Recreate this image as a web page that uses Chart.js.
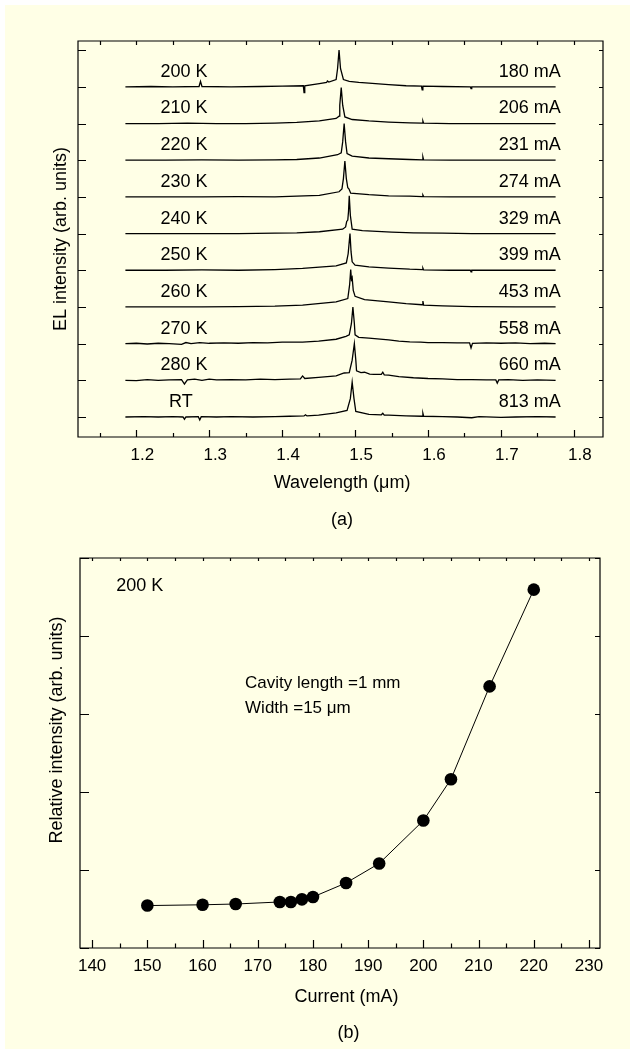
<!DOCTYPE html>
<html>
<head>
<meta charset="utf-8">
<script src="https://cdn.jsdelivr.net/npm/chart.js@4"></script>
<style>
  html, body { margin: 0; padding: 0; background: #fff; }
  #sheet { position: absolute; left: 5px; top: 5px; width: 625px; height: 1044px; background: #FFFFE6; }
  #wrapA { position: absolute; left: 0; top: 0; width: 630px; height: 545px; }
  #wrapB { position: absolute; left: 0; top: 545px; width: 630px; height: 504px; }
</style>
</head>
<body>
<div id="sheet"></div>
<div id="wrapA"><canvas id="chartA" width="630" height="545"></canvas></div>
<div id="wrapB"><canvas id="chartB" width="630" height="504"></canvas></div>
<script>
// ---- data (a): EL spectra, top to bottom ----
const tempLabels = ['200 K', '210 K', '220 K', '230 K', '240 K', '250 K', '260 K', '270 K', '280 K', 'RT'];
const currentLabels = ['180 mA', '206 mA', '231 mA', '274 mA', '329 mA', '399 mA', '453 mA', '558 mA', '660 mA', '813 mA'];

// [wavelength (um), normalised intensity]
const spec200 = [[1.185,0],[1.22,0.01],[1.25,0],[1.286,0.01],[1.288,0.15],[1.290,0.01],[1.33,0],[1.37,0.01],[1.40,0.02],[1.429,0.03],[1.430,-0.16],[1.431,0.03],[1.451,0.09],[1.461,0.12],[1.462,0.16],[1.464,0.13],[1.474,0.2],[1.476,0.5],[1.478,1.0],[1.480,0.5],[1.484,0.2],[1.492,0.15],[1.505,0.12],[1.519,0.1],[1.546,0.06],[1.57,0.03],[1.591,0.02],[1.592,-0.08],[1.593,0.02],[1.62,0.01],[1.658,0],[1.659,-0.05],[1.66,0],[1.70,0],[1.74,0],[1.775,0]];
const spec210 = [[1.185,0],[1.23,0],[1.27,0.01],[1.31,0],[1.35,0],[1.39,0.01],[1.42,0.03],[1.451,0.07],[1.474,0.14],[1.478,0.2],[1.479,0.5],[1.481,0.98],[1.483,0.5],[1.486,0.18],[1.496,0.11],[1.519,0.07],[1.546,0.04],[1.575,0.02],[1.592,0.01],[1.593,0.07],[1.594,0.01],[1.63,0],[1.68,0],[1.73,0],[1.775,0]];
const spec220 = [[1.185,0],[1.24,0],[1.29,0.01],[1.34,0],[1.39,0.01],[1.42,0.02],[1.451,0.06],[1.476,0.15],[1.481,0.2],[1.483,0.5],[1.485,1.0],[1.487,0.5],[1.489,0.18],[1.496,0.11],[1.519,0.06],[1.546,0.04],[1.575,0.02],[1.592,0.01],[1.593,0.09],[1.594,0.01],[1.63,0],[1.68,0],[1.73,0],[1.775,0]];
const spec230 = [[1.185,0],[1.24,0],[1.29,0],[1.34,0.01],[1.39,0],[1.42,0.02],[1.451,0.04],[1.478,0.14],[1.482,0.22],[1.484,0.5],[1.486,0.98],[1.488,0.5],[1.490,0.25],[1.4915,0.22],[1.494,0.1],[1.519,0.06],[1.546,0.03],[1.575,0.02],[1.592,0.01],[1.593,0.05],[1.594,0.01],[1.63,0],[1.68,0],[1.73,0],[1.775,0]];
const spec240 = [[1.185,0],[1.24,0],[1.29,0],[1.34,0],[1.39,0.01],[1.42,0.02],[1.451,0.05],[1.483,0.12],[1.487,0.18],[1.4885,0.33],[1.490,0.37],[1.491,0.6],[1.492,1.03],[1.4935,0.5],[1.496,0.12],[1.51,0.08],[1.53,0.06],[1.55,0.04],[1.58,0.02],[1.62,0.01],[1.66,0],[1.72,0],[1.775,0]];
const spec250 = [[1.185,0],[1.24,0],[1.29,0.01],[1.34,0],[1.39,0.02],[1.428,0.05],[1.474,0.12],[1.488,0.2],[1.4905,0.45],[1.493,1.0],[1.4945,0.5],[1.496,0.23],[1.500,0.14],[1.519,0.09],[1.546,0.06],[1.575,0.03],[1.592,0.02],[1.593,0.06],[1.594,0.01],[1.63,0],[1.658,0],[1.659,-0.04],[1.66,0],[1.72,0],[1.775,0]];
const spec260 = [[1.185,0],[1.24,0],[1.29,0],[1.34,0.01],[1.39,0.02],[1.428,0.05],[1.474,0.14],[1.490,0.23],[1.4925,0.6],[1.494,1.02],[1.495,0.75],[1.496,0.8],[1.4975,0.45],[1.500,0.29],[1.513,0.2],[1.546,0.14],[1.57,0.09],[1.592,0.06],[1.593,0.16],[1.594,0.05],[1.62,0.03],[1.66,0.01],[1.72,0],[1.775,0]];
const spec270 = [[1.185,0],[1.20,0.01],[1.215,-0.01],[1.23,0.01],[1.245,0],[1.262,-0.02],[1.268,0.03],[1.275,0],[1.287,0.03],[1.30,0.01],[1.32,0.02],[1.34,0.01],[1.36,0.03],[1.38,0.02],[1.40,0.04],[1.428,0.04],[1.45,0.07],[1.474,0.12],[1.4875,0.2],[1.492,0.24],[1.495,0.55],[1.497,1.0],[1.499,0.55],[1.500,0.24],[1.505,0.17],[1.519,0.15],[1.546,0.1],[1.56,0.07],[1.575,0.05],[1.59,0.04],[1.60,0.03],[1.62,0.03],[1.64,0.02],[1.657,0.02],[1.659,-0.12],[1.661,0.01],[1.68,0.02],[1.70,0.01],[1.72,0.02],[1.74,0],[1.76,0.01],[1.775,0]];
const spec280 = [[1.185,0],[1.20,-0.01],[1.215,0.02],[1.23,0],[1.245,0.01],[1.262,0.02],[1.266,-0.1],[1.27,0.01],[1.28,0.03],[1.29,0],[1.30,0.03],[1.31,0.01],[1.33,0.02],[1.35,0.01],[1.37,0.03],[1.39,0.02],[1.41,0.03],[1.425,0.04],[1.428,0.12],[1.431,0.05],[1.45,0.08],[1.474,0.12],[1.485,0.2],[1.492,0.21],[1.496,0.55],[1.499,1.0],[1.501,0.55],[1.502,0.26],[1.508,0.21],[1.513,0.22],[1.52,0.17],[1.526,0.16],[1.536,0.16],[1.538,0.22],[1.540,0.15],[1.546,0.14],[1.56,0.1],[1.58,0.07],[1.60,0.05],[1.62,0.04],[1.64,0.02],[1.66,0.02],[1.68,0.01],[1.693,0.01],[1.695,-0.08],[1.697,0.01],[1.71,0.02],[1.73,0],[1.75,0.01],[1.775,0]];
const specRT = [[1.185,0],[1.21,0.01],[1.23,0],[1.25,0.01],[1.264,0],[1.266,-0.06],[1.268,0],[1.285,0.01],[1.287,-0.08],[1.289,0.01],[1.31,0],[1.33,0.01],[1.36,0],[1.39,0.01],[1.41,0.02],[1.43,0.03],[1.432,0.06],[1.434,0.03],[1.45,0.05],[1.474,0.11],[1.489,0.18],[1.4935,0.5],[1.496,0.95],[1.4985,0.5],[1.501,0.15],[1.519,0.07],[1.536,0.06],[1.538,0.1],[1.540,0.05],[1.546,0.05],[1.57,0.03],[1.592,0.02],[1.593,0.1],[1.594,0.02],[1.62,0.01],[1.64,0],[1.66,-0.02],[1.67,0.01],[1.70,-0.01],[1.72,0],[1.75,0.01],[1.775,0]];
const spectra = [spec200, spec210, spec220, spec230, spec240, spec250, spec260, spec270, spec280, specRT];

// ---- data (b): relative intensity vs current at 200 K ----
const currentMA = [150, 160, 166, 174, 176, 178, 180, 186, 192, 200, 205, 212, 220];
const relIntensity = [0.30, 0.31, 0.32, 0.346, 0.346, 0.38, 0.41, 0.59, 0.84, 1.39, 1.92, 3.11, 4.35];

const FONT = '"Liberation Sans", Arial, Helvetica, sans-serif';

// frame with inward ticks on all four sides, tick labels drawn by hand
function framePlugin(cfg) {
    return {
        id: 'frame',
        afterDraw(chart) {
            const { ctx, chartArea: a, scales: { x, y } } = chart;
            const seg = (x1, y1, x2, y2) => { ctx.moveTo(x1, y1); ctx.lineTo(x2, y2); };
            ctx.save();
            ctx.strokeStyle = '#000';
            ctx.lineWidth = 1.2;
            ctx.beginPath();
            ctx.rect(a.left, a.top, a.right - a.left, a.bottom - a.top);
            x.ticks.forEach(t => {
                const px = Math.round(x.getPixelForValue(t.value)) + 0.5;
                seg(px, a.bottom, px, a.bottom - cfg.xMajor);
                seg(px, a.top, px, a.top + cfg.xTop);
            });
            const st = cfg.xMinor;
            for (let v = Math.ceil(x.min / st) * st; v <= x.max; v += st) {
                const vv = Math.round(v * 1000) / 1000;
                if (x.ticks.some(t => Math.abs(t.value - vv) < st / 10)) continue;
                const px = Math.round(x.getPixelForValue(vv)) + 0.5;
                seg(px, a.bottom, px, a.bottom - cfg.xMinorLen);
                seg(px, a.top, px, a.top + cfg.xTop);
            }
            y.ticks.forEach(t => {
                const py = Math.round(y.getPixelForValue(t.value)) + 0.5;
                seg(a.left, py, a.left + cfg.yMajor, py);
                seg(a.right, py, a.right - cfg.yRight, py);
            });
            ctx.stroke();

            ctx.fillStyle = '#000';
            ctx.font = '17px ' + FONT;
            ctx.textAlign = 'center';
            ctx.textBaseline = 'middle';
            x.ticks.forEach(t => {
                ctx.fillText(cfg.fmt(t.value), x.getPixelForValue(t.value) + cfg.labelShift, a.bottom + cfg.labelGap);
            });
            ctx.restore();
        }
    };
}

function axisOptions(min, max, step) {
    return {
        type: 'linear', min: min, max: max,
        grid: { display: false, drawTicks: false },
        border: { display: false },
        ticks: { display: false, stepSize: step, includeBounds: false }
    };
}

// ---- chart (a) ----
const specSets = spectra.map((s, i) => ({
    data: s.map(p => ({ x: p[0], y: p[1] + (spectra.length - 1 - i) })),
    borderColor: '#000', borderWidth: 1.3, pointRadius: 0, tension: 0, fill: false
}));

const xA = axisOptions(1.12, 1.84, 0.1);
xA.afterFit = s => { s.height = 545 - 437; };
const yA = axisOptions(-0.545, 10.25, 1);
yA.afterFit = s => { s.width = 0; };

new Chart(document.getElementById('chartA'), {
    type: 'line',
    data: { datasets: specSets },
    options: {
        responsive: false, animation: false,
        layout: { padding: { left: 78, top: 41, right: 27, bottom: 0 } },
        plugins: { legend: { display: false }, tooltip: { enabled: false } },
        scales: { x: xA, y: yA }
    },
    plugins: [
        framePlugin({ xMajor: 7, xMinorLen: 4, xMinor: 0.05, xTop: 4, yMajor: 8, yRight: 4,
                      fmt: v => v.toFixed(1), labelShift: 6, labelGap: 18 }),
        {
            id: 'textA',
            afterDraw(chart) {
                const { ctx, chartArea: a, scales: { x, y } } = chart;
                ctx.save();
                ctx.fillStyle = '#000';
                ctx.font = '18px ' + FONT;
                ctx.textBaseline = 'middle';
                tempLabels.forEach((t, i) => {
                    const py = y.getPixelForValue(tempLabels.length - 1 - i + 0.41);
                    ctx.textAlign = t === 'RT' ? 'center' : 'left';
                    ctx.fillText(t, x.getPixelForValue(t === 'RT' ? 1.261 : 1.233), py);
                    ctx.textAlign = 'right';
                    ctx.fillText(currentLabels[i], x.getPixelForValue(1.782), py);
                });
                ctx.textAlign = 'center';
                ctx.fillText('Wavelength (\u03bcm)', 342, 483);
                ctx.fillText('(a)', 342, 520);
                ctx.translate(61, (a.top + a.bottom) / 2);
                ctx.rotate(-Math.PI / 2);
                ctx.fillText('EL intensity (arb. units)', 0, 0);
                ctx.restore();
            }
        }
    ]
});

// ---- chart (b) ----
const xB = axisOptions(137.8, 232, 10);
xB.afterFit = s => { s.height = 504 - 403; };
const yB = axisOptions(-0.244, 4.756, 1);
yB.afterFit = s => { s.width = 0; };

new Chart(document.getElementById('chartB'), {
    type: 'line',
    data: {
        datasets: [{
            data: currentMA.map((c, i) => ({ x: c, y: relIntensity[i] })),
            borderColor: '#000', borderWidth: 1, tension: 0,
            pointRadius: 6.3, pointBackgroundColor: '#000', pointBorderColor: '#000', pointBorderWidth: 0
        }]
    },
    options: {
        responsive: false, animation: false,
        layout: { padding: { left: 80, top: 13, right: 30, bottom: 0 } },
        plugins: { legend: { display: false }, tooltip: { enabled: false } },
        scales: { x: xB, y: yB }
    },
    plugins: [
        framePlugin({ xMajor: 8, xMinorLen: 4.5, xMinor: 5, xTop: 3, yMajor: 9, yRight: 5,
                      fmt: v => String(v), labelShift: 0, labelGap: 18 }),
        {
            id: 'textB',
            afterDraw(chart) {
                const { ctx, scales: { x, y } } = chart;
                ctx.save();
                ctx.fillStyle = '#000';
                ctx.textBaseline = 'middle';
                ctx.textAlign = 'left';
                ctx.font = '18px ' + FONT;
                ctx.fillText('200 K', x.getPixelForValue(144.35), y.getPixelForValue(4.40));
                ctx.font = '17px ' + FONT;
                ctx.fillText('Cavity length =1 mm', x.getPixelForValue(167.7), y.getPixelForValue(3.15));
                ctx.fillText('Width =15 \u03bcm', x.getPixelForValue(167.7), y.getPixelForValue(2.83));
                ctx.font = '18px ' + FONT;
                ctx.textAlign = 'center';
                ctx.fillText('Current (mA)', 346.6, 451.7);
                ctx.fillText('(b)', 348.5, 488);
                ctx.translate(57, 185);
                ctx.rotate(-Math.PI / 2);
                ctx.fillText('Relative intensity (arb. units)', 0, 0);
                ctx.restore();
            }
        }
    ]
});
</script>
</body>
</html>
